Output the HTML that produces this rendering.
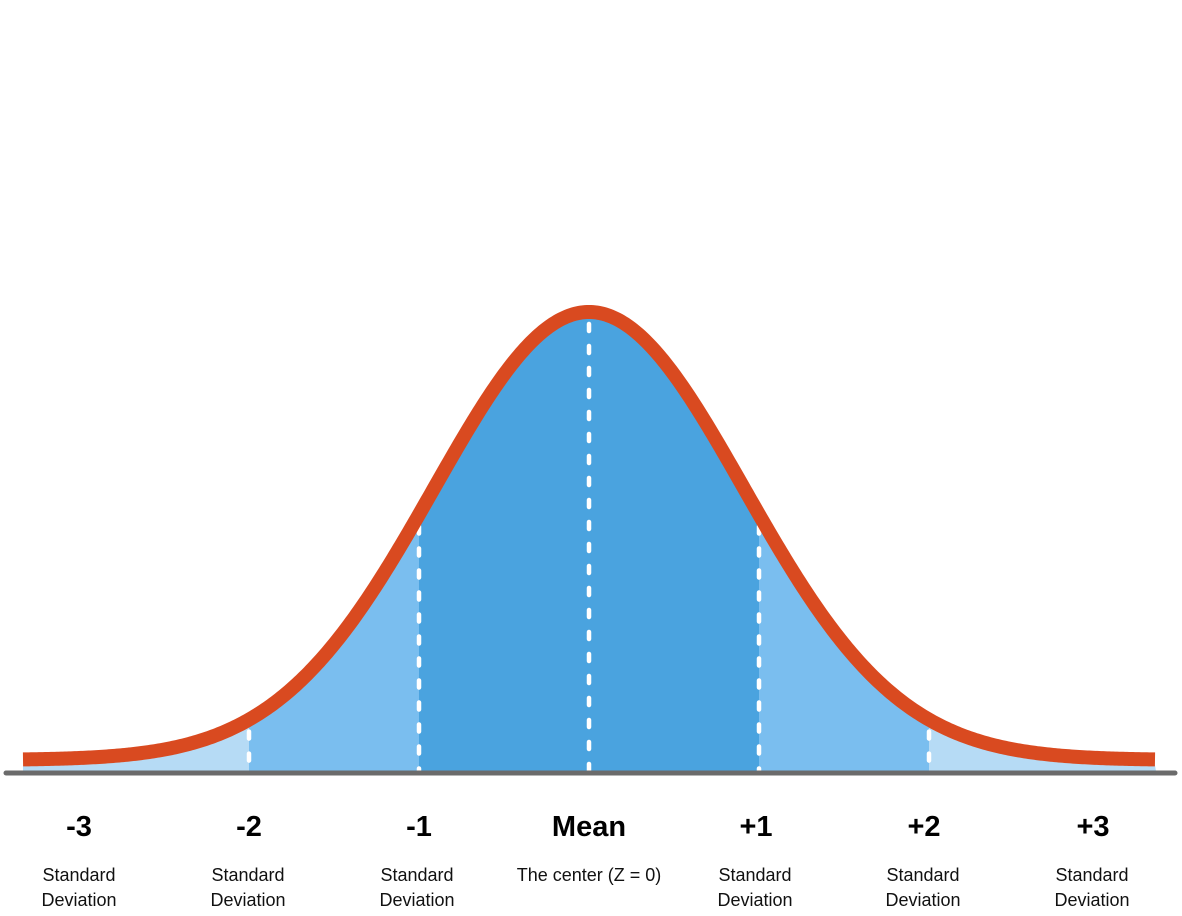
<!DOCTYPE html>
<html><head><meta charset="utf-8"><style>
html,body{margin:0;padding:0;background:#fff;}
svg{display:block}
text{font-family:"Liberation Sans",sans-serif;}
</style></head><body>
<svg id="s" width="1182" height="916" viewBox="0 0 1182 916" xmlns="http://www.w3.org/2000/svg">
<defs><clipPath id="c"><path id="cp" d=""/></clipPath></defs>
<g clip-path="url(#c)">
<rect x="0" y="0" width="1182" height="771" fill="#B6DBF5"/>
<rect x="249" y="0" width="680" height="771" fill="#7ABEEF"/>
<rect x="419" y="0" width="340" height="771" fill="#4AA3DF"/>
</g>
<g id="dash" stroke="#fff" stroke-width="4.5" stroke-linecap="round" stroke-dasharray="7 15"></g>
<path id="curve" d="" fill="none" stroke="#D94A20" stroke-width="14"/>
<line x1="6" y1="773" x2="1175" y2="773" stroke="#6b6b6b" stroke-width="5" stroke-linecap="round"/>
<g font-weight="bold" font-size="29" text-anchor="middle" fill="#000">
<text x="79" y="836">-3</text><text x="249" y="836">-2</text><text x="419" y="836">-1</text>
<text x="589" y="836">Mean</text><text x="756" y="836">+1</text><text x="924" y="836">+2</text><text x="1093" y="836">+3</text>
</g>
<g font-size="18" text-anchor="middle" fill="#111">
<text x="79" y="881">Standard</text><text x="79" y="906">Deviation</text>
<text x="248" y="881">Standard</text><text x="248" y="906">Deviation</text>
<text x="417" y="881">Standard</text><text x="417" y="906">Deviation</text>
<text x="589" y="881">The center (Z = 0)</text>
<text x="755" y="881">Standard</text><text x="755" y="906">Deviation</text>
<text x="923" y="881">Standard</text><text x="923" y="906">Deviation</text>
<text x="1092" y="881">Standard</text><text x="1092" y="906">Deviation</text>
</g>
</svg>
<script>
var base=760,A=448,mu=589,sg=155;
function f(x){var z=(x-mu)/sg;return base-A*Math.exp(-z*z/2);}
var d="",cd="M23 771";
for(var x=23;x<=1156;x+=2){d+=(x==23?"M":"L")+x+" "+f(x).toFixed(2)+" ";cd+=" L"+x+" "+(f(x)+6).toFixed(2);}
cd+=" L1156 771 Z";
document.getElementById("curve").setAttribute("d",d);
document.getElementById("cp").setAttribute("d",cd);
var g=document.getElementById("dash");
[249,419,589,759,929].forEach(function(x){
var l=document.createElementNS("http://www.w3.org/2000/svg","line");
l.setAttribute("x1",x);l.setAttribute("x2",x);l.setAttribute("y1",f(x)+12);l.setAttribute("y2",773);
g.appendChild(l);});
</script>
</body></html>
